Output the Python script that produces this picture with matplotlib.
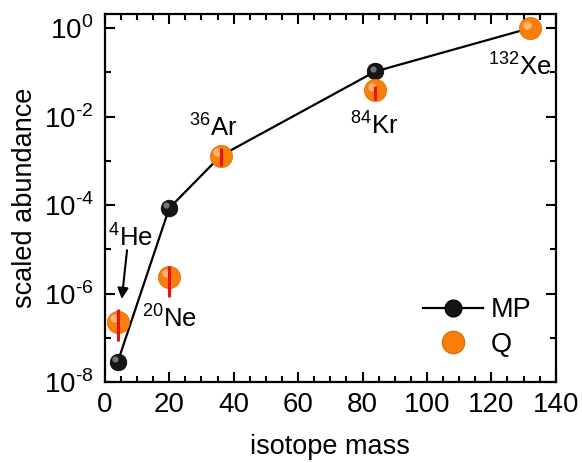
import numpy as np
import matplotlib.pyplot as plt
from matplotlib.transforms import offset_copy

plt.rcParams['font.family'] = ['Liberation Sans', 'DejaVu Sans']
plt.rcParams['mathtext.fontset'] = 'custom'
plt.rcParams['mathtext.rm'] = 'Liberation Sans'

# data
mass = [4, 20, 36, 84, 132]
isotopes = ['$^{4}$He', '$^{20}$Ne', '$^{36}$Ar', '$^{84}$Kr', '$^{132}$Xe']
mp = [2.8e-8, 8.5e-5, 1.3e-3, 0.105, 1.0]
q = [2.3e-7, 2.4e-6, 1.3e-3, 0.039, 1.0]
q_lo = [8.3e-8, 8.5e-7, 7.6e-4, 0.024, 1.0]
q_hi = [4.4e-7, 4.1e-6, 2.0e-3, 0.050, 1.0]
ytick_vals = [1e-8, 1e-6, 1e-4, 1e-2, 1e0]
ytick_labels = ['10$^{\\text{-}8}$', '10$^{\\text{-}6}$', '10$^{\\text{-}4}$',
                '10$^{\\text{-}2}$', '10$^{0}$']

fig = plt.figure(figsize=(5.82, 4.63), dpi=100)
ax = fig.add_axes([0.180, 0.175, 0.775, 0.795])

orange = '#f77f0a'

# MP line + black spheres
ax.plot(mass, mp, '-', color='black', lw=1.6, zorder=2)
ax.plot(mass, mp, 'o', color='#151515', ms=12, mec='#000000', mew=0.5, zorder=3)
hl = offset_copy(ax.transData, fig=fig, x=-2.0, y=2.0, units='points')
ax.plot(mass, mp, 'o', color='#8a8a8a', ms=4.5, mec='none', alpha=0.8, zorder=3.1, transform=hl)

# Q orange spheres with red error bars
ax.plot(mass, q, 'o', color=orange, ms=16, mec='#e06a00', mew=0.5, zorder=4)
hl2 = offset_copy(ax.transData, fig=fig, x=-2.5, y=2.5, units='points')
ax.plot(mass, q, 'o', color='#ffc48a', ms=6, mec='none', alpha=0.8, zorder=4.1, transform=hl2)
err = [np.array(q) - np.array(q_lo), np.array(q_hi) - np.array(q)]
ax.errorbar(mass, q, yerr=err, fmt='none', ecolor='#ee1010', elinewidth=2.2, capsize=0, zorder=5)

ax.set_yscale('log')
ax.set_xlim(0, 140)
ax.set_ylim(1e-8, 2.1)
ax.set_xticks(np.arange(0, 141, 20))
ax.set_xticks(np.arange(0, 141, 5), minor=True)
ax.set_yticks(ytick_vals)
ax.set_yticklabels(ytick_labels)
ax.set_yticks([1e-7, 1e-5, 1e-3, 1e-1], minor=True)
ax.yaxis.set_minor_formatter(plt.NullFormatter())
ax.tick_params(which='both', direction='in', top=True, right=True, width=1.5, labelsize=20)
ax.tick_params(which='major', length=7)
ax.tick_params(which='minor', length=4)
ax.tick_params(axis='x', pad=7)
ax.tick_params(axis='y', pad=8)
for s in ax.spines.values():
    s.set_linewidth(1.6)

ax.set_xlabel('isotope mass', fontsize=19.5, labelpad=12)
ax.set_ylabel('scaled abundance', fontsize=19.5, labelpad=4)

# isotope labels
ax.text(1.0, 4e-5, isotopes[0], fontsize=18.5, ha='left', va='top')
ax.text(11.5, 2.9e-7, isotopes[1], fontsize=18.5, ha='left', va='center')
ax.text(26.0, 6e-3, isotopes[2], fontsize=18.5, ha='left', va='center')
ax.text(76, 6.5e-3, isotopes[3], fontsize=18.5, ha='left', va='center')
ax.text(119, 0.14, isotopes[4], fontsize=18.5, ha='left', va='center')
ax.annotate('', xy=(5.2, 6.5e-7), xytext=(7.0, 1.1e-5),
            arrowprops=dict(arrowstyle='-|>', color='black', lw=1.5, mutation_scale=16))

# legend
ax.plot([], [], '-o', color='black', mfc='#151515', ms=12, lw=1.6, label='MP')
ax.plot([], [], 'o', color=orange, ms=16, mec='#e06a00', label='Q')
h, l = ax.get_legend_handles_labels()
ax.legend(h[-2:], l[-2:], loc='lower right', bbox_to_anchor=(1.0, 0.0), frameon=False,
          fontsize=19.5, handlelength=2.2, handletextpad=0.3, labelspacing=0.3, numpoints=1)

fig.savefig('out.png', dpi=100)
